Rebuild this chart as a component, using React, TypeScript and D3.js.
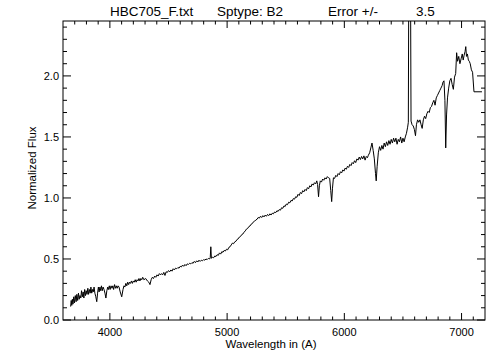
import React from "react";
import * as d3 from "d3";

const W = 504;
const H = 360;

const titleParts = ["HBC705_F.txt", "Sptype: B2", "Error +/-", "3.5"];
const xTicks = [4000, 5000, 6000, 7000];
const yTicks = [0.0, 0.5, 1.0, 1.5, 2.0];

// [wavelength (A), normalized flux]
const blueSpectrum: [number, number][] = [
  [3665, 0.11], [3670, 0.16], [3675, 0.12], [3680, 0.17], [3685, 0.13], [3692, 0.19],
  [3698, 0.14], [3705, 0.2], [3712, 0.15], [3718, 0.21], [3725, 0.16], [3732, 0.22],
  [3738, 0.17], [3745, 0.2], [3752, 0.18], [3758, 0.24], [3765, 0.19], [3772, 0.23],
  [3778, 0.18], [3785, 0.25], [3792, 0.2], [3798, 0.24], [3805, 0.21], [3812, 0.26],
  [3818, 0.21], [3825, 0.25], [3832, 0.22], [3838, 0.27], [3845, 0.22], [3852, 0.25],
  [3858, 0.23], [3865, 0.27], [3872, 0.22], [3880, 0.19], [3888, 0.15], [3895, 0.22],
  [3902, 0.27], [3908, 0.23], [3915, 0.27], [3922, 0.24], [3928, 0.28], [3935, 0.24],
  [3942, 0.27], [3950, 0.25], [3958, 0.22], [3966, 0.18], [3974, 0.24], [3982, 0.27],
  [3988, 0.25], [3995, 0.28], [4002, 0.25], [4010, 0.28], [4018, 0.26], [4025, 0.28],
  [4032, 0.25], [4040, 0.29], [4048, 0.26], [4055, 0.28], [4062, 0.26], [4070, 0.28],
  [4078, 0.27], [4088, 0.23], [4101, 0.19], [4112, 0.25], [4120, 0.28], [4128, 0.27],
  [4136, 0.3], [4144, 0.28], [4152, 0.31], [4160, 0.29], [4168, 0.31], [4176, 0.3],
  [4184, 0.32], [4192, 0.3], [4200, 0.32], [4208, 0.31], [4216, 0.33], [4224, 0.31],
  [4232, 0.33], [4240, 0.32], [4248, 0.34], [4256, 0.32], [4264, 0.34], [4272, 0.33],
  [4280, 0.35], [4290, 0.33], [4305, 0.34], [4320, 0.32], [4332, 0.31], [4342, 0.29],
  [4352, 0.33], [4362, 0.35], [4372, 0.34], [4382, 0.36], [4392, 0.35], [4402, 0.37],
  [4412, 0.36], [4422, 0.38], [4432, 0.37],
];

const greenSpectrum: [number, number][] = [
  [4440, 0.38], [4450, 0.37], [4460, 0.39], [4470, 0.365], [4480, 0.395], [4490, 0.39],
  [4500, 0.405], [4510, 0.395], [4520, 0.41], [4530, 0.4], [4540, 0.42], [4550, 0.41],
  [4560, 0.425], [4570, 0.42], [4580, 0.43], [4590, 0.425], [4600, 0.44], [4610, 0.435],
  [4620, 0.45], [4630, 0.44], [4640, 0.455], [4650, 0.445], [4660, 0.46], [4670, 0.455],
  [4680, 0.465], [4690, 0.46], [4700, 0.47], [4710, 0.465], [4720, 0.48], [4730, 0.47],
  [4740, 0.485], [4750, 0.475], [4760, 0.49], [4770, 0.48], [4780, 0.49], [4790, 0.485],
  [4800, 0.495], [4810, 0.49], [4820, 0.5], [4830, 0.495], [4840, 0.505], [4850, 0.5],
  [4856, 0.51], [4861, 0.6], [4866, 0.505], [4875, 0.515], [4885, 0.51], [4895, 0.525],
  [4905, 0.52], [4915, 0.535], [4925, 0.53], [4935, 0.55], [4945, 0.54], [4955, 0.56],
  [4965, 0.555], [4975, 0.57], [4985, 0.565], [4995, 0.58], [5005, 0.575], [5015, 0.595],
  [5025, 0.6], [5035, 0.615], [5045, 0.63], [5055, 0.625], [5065, 0.64], [5075, 0.645],
  [5085, 0.66], [5095, 0.665], [5105, 0.68], [5115, 0.685], [5125, 0.7], [5135, 0.705],
  [5145, 0.72], [5155, 0.73], [5165, 0.745], [5175, 0.75], [5185, 0.765], [5195, 0.77],
  [5205, 0.785], [5215, 0.79], [5225, 0.805], [5235, 0.81], [5245, 0.82], [5255, 0.825],
  [5265, 0.84], [5275, 0.835], [5285, 0.85], [5295, 0.84], [5305, 0.855], [5315, 0.845],
  [5325, 0.86], [5335, 0.85], [5345, 0.865], [5355, 0.855], [5365, 0.87], [5375, 0.86],
  [5385, 0.875], [5395, 0.87], [5405, 0.885], [5415, 0.88], [5425, 0.895], [5435, 0.89],
  [5445, 0.905], [5455, 0.9], [5465, 0.92], [5475, 0.915], [5485, 0.935], [5495, 0.93],
  [5505, 0.95], [5515, 0.945], [5525, 0.965], [5535, 0.96], [5545, 0.98], [5555, 0.975],
  [5565, 0.995], [5575, 0.99], [5585, 1.01], [5595, 1.005], [5605, 1.03], [5615, 1.02],
  [5625, 1.045], [5635, 1.035], [5645, 1.06], [5655, 1.05], [5665, 1.07], [5675, 1.06],
  [5685, 1.085], [5695, 1.075], [5705, 1.1], [5715, 1.09], [5725, 1.115], [5735, 1.105],
  [5745, 1.125], [5755, 1.115], [5765, 1.14], [5772, 1.11], [5780, 1.01], [5787, 1.1],
  [5795, 1.14], [5805, 1.13], [5815, 1.155], [5825, 1.145], [5835, 1.165], [5845, 1.155],
  [5855, 1.175], [5865, 1.165], [5875, 1.16], [5884, 1.06], [5892, 0.97], [5899, 1.08],
  [5907, 1.165], [5917, 1.16], [5927, 1.185], [5937, 1.175], [5947, 1.2], [5957, 1.19],
  [5967, 1.215], [5977, 1.205], [5987, 1.23], [5997, 1.22], [6007, 1.245], [6017, 1.235],
  [6027, 1.26], [6037, 1.25], [6047, 1.275], [6057, 1.265], [6067, 1.29], [6077, 1.28],
  [6087, 1.305], [6097, 1.29], [6107, 1.32], [6117, 1.31], [6127, 1.335], [6137, 1.315],
  [6147, 1.34], [6157, 1.32], [6167, 1.345], [6177, 1.31], [6187, 1.34], [6197, 1.33],
];

const redSpectrum: [number, number][] = [
  [6205, 1.35], [6216, 1.37], [6226, 1.41], [6236, 1.45], [6246, 1.39], [6256, 1.32],
  [6266, 1.2], [6272, 1.14], [6280, 1.26], [6290, 1.37], [6300, 1.42], [6310, 1.39],
  [6320, 1.43], [6330, 1.4], [6340, 1.45], [6350, 1.42], [6360, 1.46], [6370, 1.43],
  [6380, 1.47], [6390, 1.44], [6400, 1.48], [6410, 1.45], [6420, 1.49], [6430, 1.46],
  [6440, 1.49], [6450, 1.44], [6460, 1.48], [6470, 1.46], [6480, 1.5], [6490, 1.45],
  [6500, 1.49], [6510, 1.46], [6520, 1.5], [6530, 1.53], [6540, 1.58], [6546, 1.62],
  [6551, 3.2], [6563, 3.2], [6569, 1.63], [6578, 1.6], [6588, 1.59], [6598, 1.56],
  [6607, 1.51], [6615, 1.6], [6625, 1.64], [6635, 1.62], [6645, 1.64], [6655, 1.6],
  [6664, 1.57], [6674, 1.64], [6684, 1.67], [6694, 1.65], [6704, 1.69], [6714, 1.71],
  [6724, 1.7], [6734, 1.74], [6744, 1.75], [6754, 1.78], [6764, 1.8], [6774, 1.76],
  [6784, 1.82], [6794, 1.84], [6804, 1.86], [6814, 1.88], [6824, 1.9], [6834, 1.92],
  [6842, 1.95], [6850, 1.96], [6858, 1.8], [6865, 1.41], [6872, 1.68], [6880, 1.82],
  [6890, 1.9], [6900, 1.96], [6910, 1.98], [6920, 1.93], [6930, 1.89], [6940, 1.99],
  [6950, 2.02], [6958, 2.19], [6966, 2.12], [6976, 2.16], [6986, 2.1], [6996, 2.14],
  [7006, 2.18], [7014, 2.13], [7022, 2.17], [7030, 2.2], [7036, 2.24], [7042, 2.16],
  [7050, 2.18], [7058, 2.13], [7066, 2.12], [7074, 2.1], [7084, 2.05], [7094, 2.03],
  [7106, 1.87], [7174, 1.87],
];

export default function App() {
  const left = 63;
  const right = 485;
  const top = 21;
  const bottom = 320;

  const x = d3.scaleLinear().domain([3600, 7200]).range([left, right]);
  const y = d3.scaleLinear().domain([0, 2.45]).range([bottom, top]);

  const data = [...blueSpectrum, ...greenSpectrum, ...redSpectrum];
  const line = d3
    .line<[number, number]>()
    .x((d) => x(d[0]))
    .y((d) => y(d[1]));

  const xMinor = d3.range(3700, 7200, 100).filter((v) => v % 1000 !== 0);
  const yMinor = d3.range(0.1, 2.45, 0.1).filter((v) => Math.abs(v * 2 - Math.round(v * 2)) > 1e-6);

  const font = "'Liberation Sans', Arial, Helvetica, sans-serif";
  const titleX = [110, 217, 328, 416];

  return (
    <svg
      width={W}
      height={H}
      style={{ position: "absolute", left: 0, top: 0, background: "#fff" }}
      fontFamily={font}
    >
      <rect x={0} y={0} width={W} height={H} fill="#fff" />
      <defs>
        <clipPath id="plotClip">
          <rect x={left} y={top} width={right - left} height={bottom - top} />
        </clipPath>
      </defs>
      {titleParts.map((t, i) => (
        <text key={t} x={titleX[i]} y={16} fontSize={13.5} fill="#000">
          {t}
        </text>
      ))}
      <path
        d={line(data) || ""}
        fill="none"
        stroke="#000"
        strokeWidth={1}
        clipPath="url(#plotClip)"
      />
      <rect
        x={left}
        y={top}
        width={right - left}
        height={bottom - top}
        fill="none"
        stroke="#000"
        strokeWidth={1}
      />
      {xTicks.map((v) => (
        <g key={"xt" + v}>
          <line x1={x(v)} x2={x(v)} y1={bottom} y2={bottom - 7} stroke="#000" />
          <line x1={x(v)} x2={x(v)} y1={top} y2={top + 7} stroke="#000" />
          <text x={x(v)} y={336} fontSize={11} textAnchor="middle" fill="#000">
            {v}
          </text>
        </g>
      ))}
      {xMinor.map((v) => (
        <g key={"xm" + v}>
          <line x1={x(v)} x2={x(v)} y1={bottom} y2={bottom - 3.5} stroke="#000" />
          <line x1={x(v)} x2={x(v)} y1={top} y2={top + 3.5} stroke="#000" />
        </g>
      ))}
      {yTicks.map((v) => (
        <g key={"yt" + v}>
          <line x1={left} x2={left + 8} y1={y(v)} y2={y(v)} stroke="#000" />
          <line x1={right} x2={right - 8} y1={y(v)} y2={y(v)} stroke="#000" />
          <text x={59} y={y(v) + 4} fontSize={11} textAnchor="end" fill="#000">
            {v.toFixed(1)}
          </text>
        </g>
      ))}
      {yMinor.map((v) => (
        <g key={"ym" + v.toFixed(2)}>
          <line x1={left} x2={left + 4} y1={y(v)} y2={y(v)} stroke="#000" />
          <line x1={right} x2={right - 4} y1={y(v)} y2={y(v)} stroke="#000" />
        </g>
      ))}
      <text x={271} y={348} fontSize={11.5} textAnchor="middle" fill="#000">
        Wavelength in (A)
      </text>
      <text
        transform={`translate(36, 168) rotate(-90)`}
        fontSize={11.5}
        textAnchor="middle"
        fill="#000"
      >
        Normalized Flux
      </text>
    </svg>
  );
}
